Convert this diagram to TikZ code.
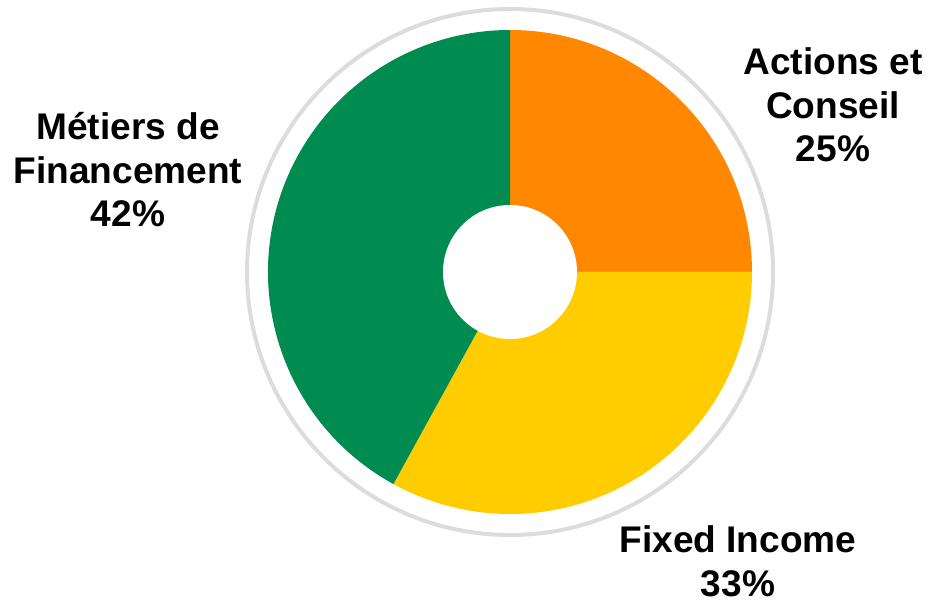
\documentclass[tikz,border=0pt]{standalone}
\usepackage{fontspec}
\setmainfont{Liberation Sans}
\usepackage{tikz}
\usetikzlibrary{positioning}
\usepackage{xcolor}
\definecolor{vert}{HTML}{008C50}
\definecolor{orangeS}{HTML}{FF8800}
\definecolor{jaune}{HTML}{FFCC00}
\definecolor{gris}{HTML}{DCDCDC}

\begin{document}
\begin{tikzpicture}[x=0.75pt,y=0.75pt,
        label node/.style={align=center,font=\bfseries\fontsize{27.8}{32.6}\selectfont,inner sep=0pt},
        ring/.style={draw=gris,line width=3pt}]
    \useasboundingbox (0,0) rectangle (928,600);
    \coordinate (c) at (510,328);

    \draw[ring] (c) circle[radius=263];

    \fill[orangeS] (c) -- ++(90:242) arc[start angle=90,end angle=0,radius=242] -- cycle;
    \fill[jaune] (c) -- ++(0:242) arc[start angle=0,end angle=-118.8,radius=242] -- cycle;
    \fill[vert] (c) -- ++(-118.8:242) arc[start angle=-118.8,end angle=-270,radius=242] -- cycle;
    \fill[white] (c) circle[radius=67];

    \node[label node] (actions) at (833,495) {Actions et\\Conseil\\25\%};
    \node[label node] (metiers) at (128,430) {Métiers de\\Financement\\42\%};
    \node[label node] (fixed) at (738,38.5) {Fixed Income\\33\%};

\end{tikzpicture}
\end{document}
